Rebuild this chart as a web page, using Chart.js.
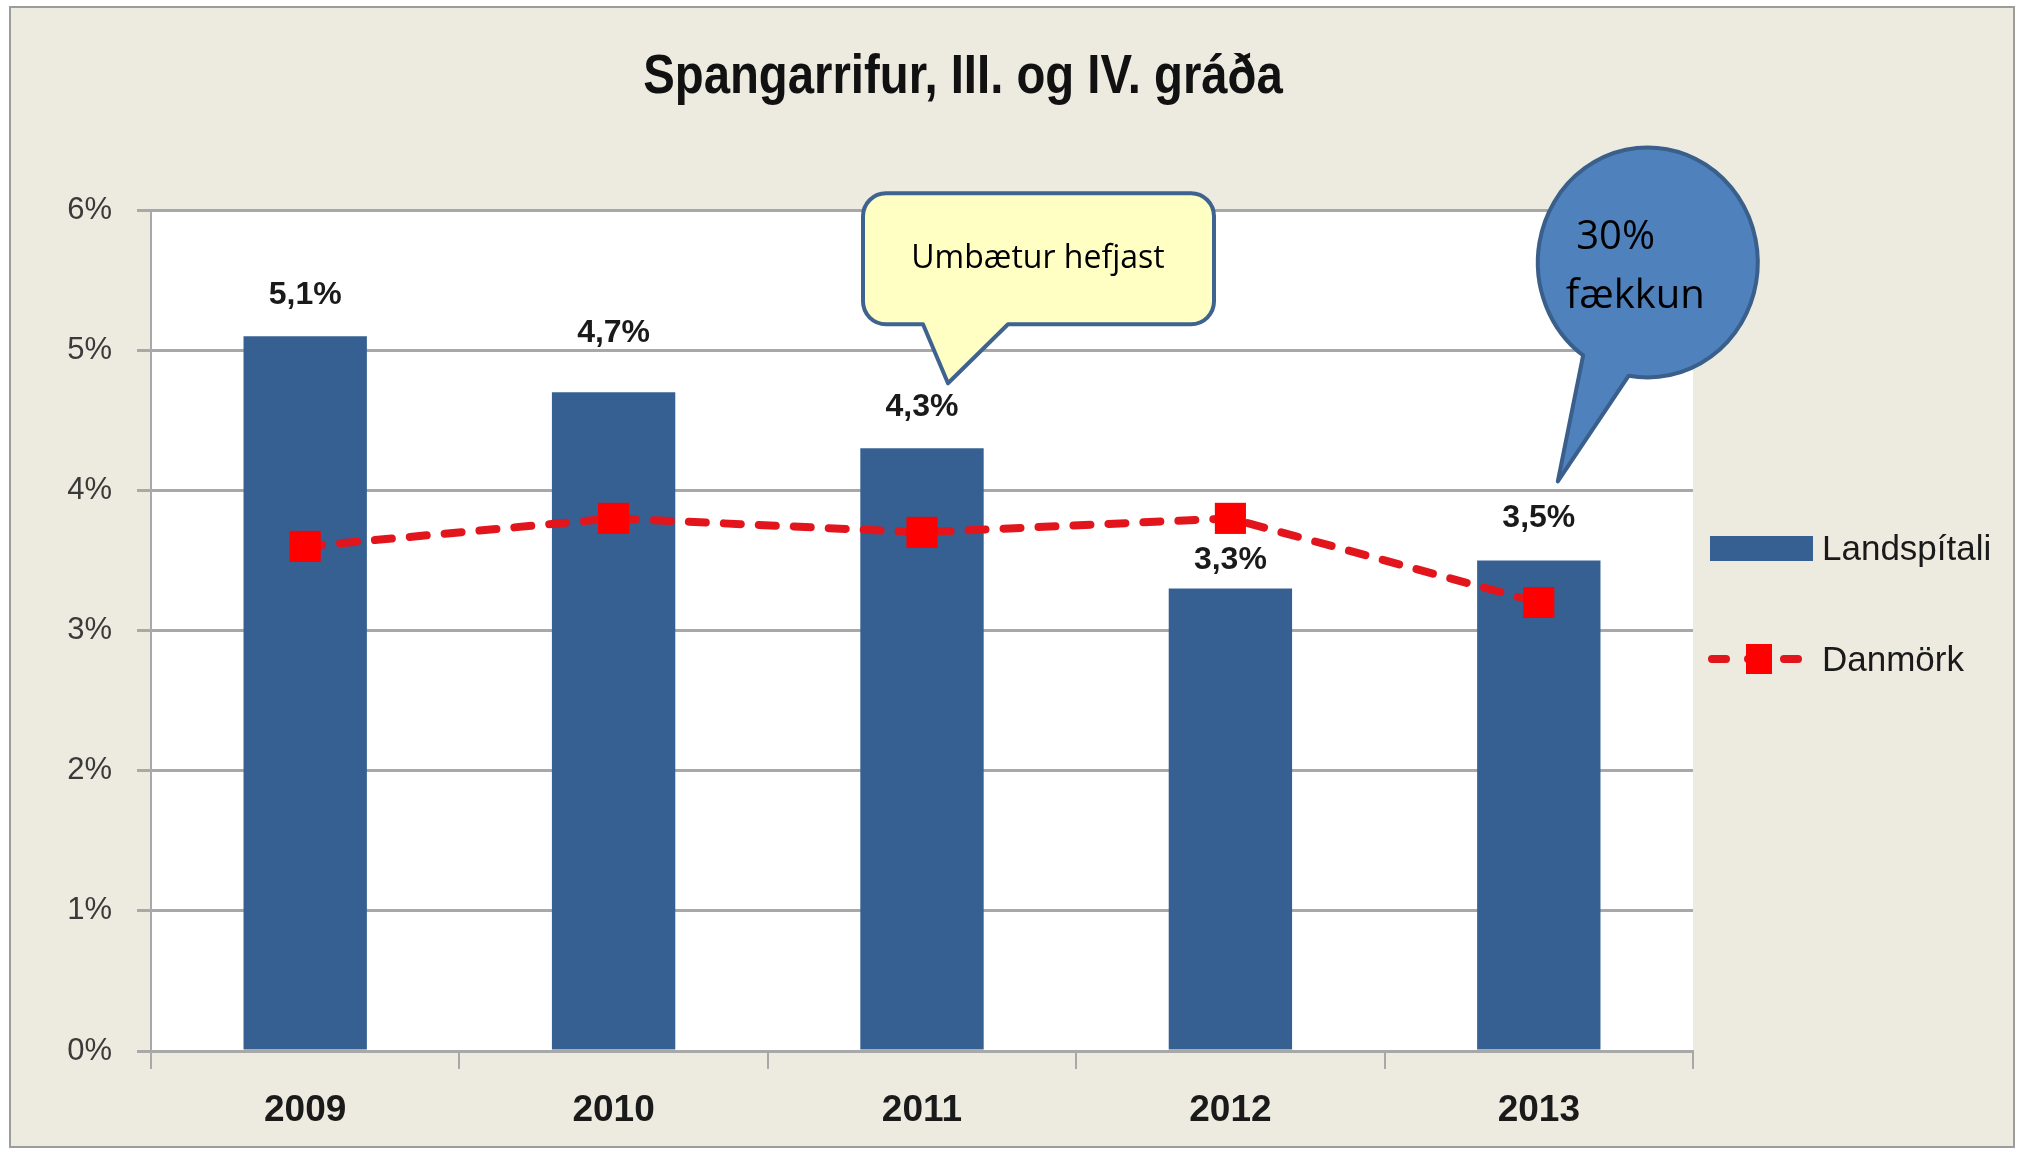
<!DOCTYPE html>
<html lang="is">
<head>
<meta charset="utf-8">
<title>Spangarrifur, III. og IV. gráða</title>
<script src="https://cdn.jsdelivr.net/npm/chart.js@4.4.1/dist/chart.umd.min.js"></script>
<style>
  html, body { margin: 0; padding: 0; background: #ffffff; }
  #chart { display: block; }
</style>
</head>
<body>
<canvas id="chart" width="2022" height="1149"></canvas>
<script>
// Data
const years = ['2009', '2010', '2011', '2012', '2013'];
const landspitali = [5.1, 4.7, 4.3, 3.3, 3.5];
const danmork = [3.6, 3.8, 3.7, 3.8, 3.2];
const yTicks = [0, 1, 2, 3, 4, 5, 6];
const seriesNames = ['Landspítali', 'Danmörk'];
const chartTitle = 'Spangarrifur, III. og IV. gráða';
const calloutTexts = ['Umbætur hefjast', ' 30%', 'fækkun'];

// how far above the bar top each value label sits (px)
const labelLift = [41, 59, 41, 28, 42];

const colors = {
  page: '#EDEBE0',
  frame: '#9C9C9C',
  plot: '#FFFFFF',
  grid: '#A8A8A8',
  bar: '#366092',
  line: '#E2141C',
  marker: '#FF0000',
  text: '#1A1A1A',
  tick: '#3A3A3A',
  noteFill: '#FFFFC4',
  noteStroke: '#3F6391',
  bubbleFill: '#4F81BD',
  bubbleStroke: '#3A5F8B',
};

const sans = '"Liberation Sans", Arial, sans-serif';
const open = '"Open Sans", "Liberation Sans", sans-serif';

const fmt = (v) => v.toFixed(1).replace('.', ',') + '%';

/** Beige panel with grey frame, white plot area and the title */
const backgroundPlugin = {
  id: 'panel',
  beforeDraw(chart) {
    const { ctx, chartArea: a } = chart;
    ctx.save();
    ctx.fillStyle = '#ffffff';
    ctx.fillRect(0, 0, chart.width, chart.height);
    ctx.fillStyle = colors.page;
    ctx.fillRect(10, 7, 2004, 1140);
    ctx.strokeStyle = colors.frame;
    ctx.lineWidth = 2;
    ctx.strokeRect(10, 7, 2004, 1140);
    ctx.fillStyle = colors.plot;
    ctx.fillRect(a.left, a.top, a.right - a.left, a.bottom - a.top);

    // condensed bold title, a little right of the plot centre
    ctx.translate(963, 78);
    ctx.scale(0.86, 1);
    ctx.font = `bold 55px ${sans}`;
    ctx.fillStyle = '#111111';
    ctx.textAlign = 'center';
    ctx.textBaseline = 'middle';
    ctx.fillText(chartTitle, 0, 0);
    ctx.restore();
  },
};

/** Value labels above the bars */
const valueLabelPlugin = {
  id: 'valueLabels',
  afterDatasetsDraw(chart) {
    const { ctx } = chart;
    const meta = chart.getDatasetMeta(0);
    ctx.save();
    ctx.font = `bold 32px ${sans}`;
    ctx.fillStyle = colors.text;
    ctx.textAlign = 'center';
    ctx.textBaseline = 'middle';
    meta.data.forEach((bar, i) => {
      ctx.fillText(fmt(landspitali[i]), bar.x, bar.y - labelLift[i]);
    });
    ctx.restore();
  },
};

/** Legend on the right, drawn from the dataset styles */
const sideLegendPlugin = {
  id: 'sideLegend',
  afterDraw(chart) {
    const { ctx, chartArea: a } = chart;
    const [bars, line] = chart.data.datasets;
    const x0 = a.right + 17;
    const y1 = a.top + 338;
    const y2 = a.top + 449;
    ctx.save();
    ctx.fillStyle = bars.backgroundColor;
    ctx.fillRect(x0, y1 - 12, 103, 25);

    ctx.strokeStyle = line.borderColor;
    ctx.lineWidth = 8;
    ctx.lineCap = 'round';
    ctx.setLineDash([14, 22]);
    ctx.beginPath();
    ctx.moveTo(x0 + 2, y2);
    ctx.lineTo(x0 + 96, y2);
    ctx.stroke();
    ctx.setLineDash([]);
    ctx.fillStyle = line.pointBackgroundColor;
    ctx.fillRect(x0 + 36, y2 - 15, 26, 30);

    ctx.font = `35px ${sans}`;
    ctx.fillStyle = colors.text;
    ctx.textBaseline = 'middle';
    ctx.fillText(bars.label, x0 + 112, y1 + 2);
    ctx.fillText(line.label, x0 + 112, y2 + 2);
    ctx.restore();
  },
};

/** Rounded box with a tail pointing at (tx, ty) */
function noteShape(ctx, L, T, R, B, r, bx1, bx2, tx, ty) {
  ctx.beginPath();
  ctx.moveTo(L + r, T);
  ctx.lineTo(R - r, T);
  ctx.arcTo(R, T, R, T + r, r);
  ctx.lineTo(R, B - r);
  ctx.arcTo(R, B, R - r, B, r);
  ctx.lineTo(bx2, B);
  ctx.lineTo(tx, ty);
  ctx.lineTo(bx1, B);
  ctx.lineTo(L + r, B);
  ctx.arcTo(L, B, L, B - r, r);
  ctx.lineTo(L, T + r);
  ctx.arcTo(L, T, L + r, T, r);
  ctx.closePath();
}

/** The two speech-bubble callouts, anchored to bars through the scales */
const calloutPlugin = {
  id: 'callouts',
  afterDraw(chart) {
    const { ctx, scales: { x, y } } = chart;
    ctx.save();

    // yellow note pointing at the 2011 bar label
    const tx = x.getPixelForValue(2) + 26;
    const ty = y.getPixelForValue(landspitali[2]) - 65;
    noteShape(ctx, tx - 85, ty - 190, tx + 266, ty - 59, 23, tx - 25, tx + 60, tx, ty);
    ctx.fillStyle = colors.noteFill;
    ctx.fill();
    ctx.lineWidth = 4;
    ctx.lineJoin = 'round';
    ctx.strokeStyle = colors.noteStroke;
    ctx.stroke();
    ctx.font = `32px ${open}`;
    ctx.fillStyle = '#000000';
    ctx.textAlign = 'center';
    ctx.textBaseline = 'middle';
    ctx.fillText(calloutTexts[0], tx + 90, ty - 124);

    // blue round bubble pointing at the 2013 bar
    const bx = x.getPixelForValue(4) + 19;
    const by = y.getPixelForValue(landspitali[4]) - 79;
    const cx = bx + 90;
    const cy = by - 219;
    ctx.beginPath();
    ctx.ellipse(cx, cy, 110, 115, 0, (100 * Math.PI) / 180, (126 * Math.PI) / 180, true);
    ctx.lineTo(bx, by);
    ctx.closePath();
    ctx.fillStyle = colors.bubbleFill;
    ctx.fill();
    ctx.strokeStyle = colors.bubbleStroke;
    ctx.stroke();
    ctx.font = `40px ${open}`;
    ctx.fillStyle = '#000000';
    ctx.textAlign = 'left';
    ctx.textBaseline = 'alphabetic';
    ctx.fillText(calloutTexts[1], bx + 8, by - 232);
    ctx.fillText(calloutTexts[2], bx + 8, by - 173);
    ctx.restore();
  },
};

function renderChart() {
  const canvas = document.getElementById('chart');

  new Chart(canvas, {
    type: 'bar',
    data: {
      labels: years,
      datasets: [
        {
          type: 'bar',
          label: seriesNames[0],
          data: landspitali,
          backgroundColor: colors.bar,
          borderWidth: 0,
          barPercentage: 0.4,
          categoryPercentage: 1,
          order: 2,
        },
        {
          type: 'line',
          label: seriesNames[1],
          data: danmork,
          borderColor: colors.line,
          borderWidth: 8,
          borderDash: [17, 18],
          borderCapStyle: 'round',
          tension: 0,
          pointStyle: 'rect',
          pointRadius: 22,
          pointBorderWidth: 0,
          pointBackgroundColor: colors.marker,
          pointBorderColor: colors.marker,
          order: 1,
        },
      ],
    },
    options: {
      responsive: false,
      animation: false,
      devicePixelRatio: 1,
      events: [],
      layout: { padding: { left: 20, right: 329, top: 210, bottom: 10 } },
      plugins: {
        legend: { display: false },
        tooltip: { enabled: false },
        title: { display: false },
      },
      scales: {
        x: {
          afterFit: (scale) => { scale.height = 88; },
          grid: {
            display: true,
            offset: true,
            drawOnChartArea: false,
            drawTicks: true,
            tickLength: 18,
            color: colors.grid,
            lineWidth: 2,
          },
          border: { display: true, color: colors.grid, width: 3 },
          ticks: {
            color: colors.text,
            padding: 20,
            font: { family: sans, size: 37, weight: 'bold' },
          },
        },
        y: {
          min: yTicks[0],
          max: yTicks[yTicks.length - 1],
          afterFit: (scale) => { scale.width = 131; },
          afterBuildTicks: (scale) => { scale.ticks = yTicks.map((v) => ({ value: v })); },
          grid: {
            color: colors.grid,
            lineWidth: 3,
            drawTicks: true,
            tickLength: 14,
          },
          border: { display: true, color: colors.grid, width: 2 },
          ticks: {
            color: colors.tick,
            padding: 25,
            font: { family: sans, size: 31 },
            callback: (v) => `${v}%`,
          },
        },
      },
    },
    plugins: [backgroundPlugin, valueLabelPlugin, sideLegendPlugin, calloutPlugin],
  });
}

renderChart();
</script>
</body>
</html>
